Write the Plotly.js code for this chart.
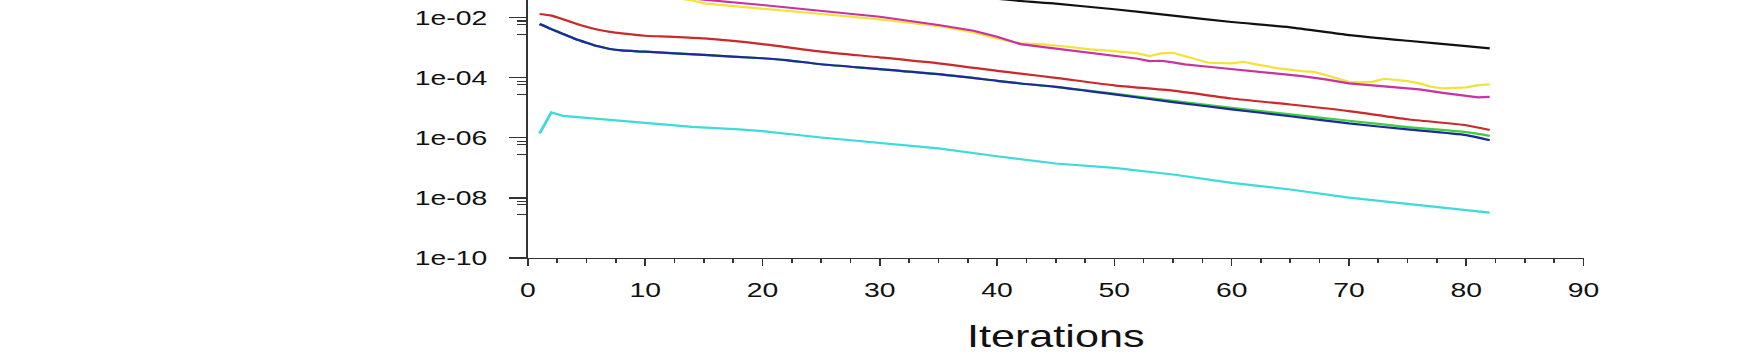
<!DOCTYPE html>
<html>
<head>
<meta charset="utf-8">
<script src="https://cdn.plot.ly/plotly-3.0.1.min.js"></script>
<style>
  html, body { margin: 0; padding: 0; background: #fff; overflow: hidden; width: 1754px; height: 360px; }
  #chart { width: 1299px; height: 360px; transform: scaleX(1.35); transform-origin: 0 0; }
</style>
</head>
<body>
<div id="chart"></div>
<script>
// ---- data ----
const iterBlack = [1,10,20,30,38,42,45,50,55,60,65,70,75,80,82];
const resBlack  = [1.0,0.5,0.224,0.1,5.13e-2,3.6e-2,2.93e-2,1.91e-2,1.17e-2,7.19e-3,4.79e-3,2.65e-3,1.71e-3,1.14e-3,9.55e-4];

const iterMagenta = [1,5,10,15,20,25,30,35,38,40,42,44,46,48,50,52,53,54,55,56,58,60,62,64,66,68,70,72,74,75,76,78,80,81,82];
const resMagenta  = [0.316,0.141,7.08e-2,3.98e-2,2.65e-2,1.71e-2,1.08e-2,5.71e-3,3.69e-3,2.33e-3,1.32e-3,1.05e-3,8.38e-4,6.81e-4,5.58e-4,4.30e-4,3.61e-4,3.69e-4,3.26e-4,2.80e-4,2.33e-4,1.95e-4,1.67e-4,1.40e-4,1.14e-4,8.85e-5,6.50e-5,5.58e-5,4.79e-5,4.65e-5,4.10e-5,3.16e-5,2.45e-5,2.22e-5,2.33e-5];

const iterYellow = [1,5,10,14,15,20,25,30,35,38,40,42,44,46,48,50,52,53,54,55,56,57,58,60,61,62,64,66,67,68,70,71,72,73,74,75,76,77,78,80,81,82];
const resYellow  = [0.251,0.126,6.31e-2,3.80e-2,3.02e-2,2.06e-2,1.33e-2,8.85e-3,5.28e-3,3.26e-3,2.06e-3,1.40e-3,1.30e-3,1.08e-3,8.85e-4,7.76e-4,6.50e-4,5.28e-4,6.50e-4,6.81e-4,5.28e-4,4.10e-4,3.16e-4,3.02e-4,3.41e-4,2.86e-4,2.06e-4,1.67e-4,1.58e-4,1.23e-4,7.36e-5,7.03e-5,7.36e-5,9.27e-5,8.38e-5,7.76e-5,6.50e-5,5.01e-5,4.44e-5,4.79e-5,5.71e-5,6.03e-5];

const iterRed = [1,2,3,4,5,6,7,8,10,12,15,20,25,30,35,40,42,45,50,55,60,65,70,75,80,82];
const resRed  = [1.33e-2,1.175e-2,8.9e-3,6.6e-3,5.0e-3,3.98e-3,3.39e-3,3.02e-3,2.51e-3,2.33e-3,2.04e-3,1.32e-3,7.41e-4,4.79e-4,3.02e-4,1.70e-4,1.38e-4,1.0e-4,5.62e-5,3.72e-5,2.04e-5,1.29e-5,7.76e-6,4.17e-6,2.63e-6,1.82e-6];

const iterGreen = [1,2,3,4,5,6,7,8,10,15,20,22,25,30,35,40,42,45,50,55,60,65,70,75,80,82];
const resGreen  = [6.17e-3,4.17e-3,2.88e-3,2.0e-3,1.48e-3,1.12e-3,9.12e-4,8.13e-4,7.41e-4,5.75e-4,4.47e-4,3.89e-4,2.82e-4,1.95e-4,1.32e-4,7.94e-5,6.46e-5,5.01e-5,2.95e-5,1.70e-5,1.0e-5,6.03e-6,3.72e-6,2.29e-6,1.55e-6,1.17e-6];

const iterBlue = [1,2,3,4,5,6,7,8,10,15,20,22,25,30,35,40,42,45,50,55,60,65,70,75,80,82];
const resBlue  = [6.17e-3,4.17e-3,2.88e-3,2.0e-3,1.48e-3,1.12e-3,9.12e-4,8.13e-4,7.41e-4,5.75e-4,4.47e-4,3.89e-4,2.82e-4,1.95e-4,1.32e-4,7.94e-5,6.46e-5,5.01e-5,2.82e-5,1.55e-5,8.91e-6,5.25e-6,3.02e-6,1.91e-6,1.23e-6,8.32e-7];

const iterCyan = [1,2,3,5,8,10,14,18,20,25,30,35,40,45,50,55,60,65,70,75,80,82];
const resCyan  = [1.40e-6,7.03e-6,5.41e-6,4.65e-6,3.69e-6,3.16e-6,2.33e-6,1.91e-6,1.67e-6,1.03e-6,6.81e-7,4.44e-7,2.45e-7,1.40e-7,1.0e-7,6.03e-8,3.16e-8,1.91e-8,1.03e-8,6.50e-9,4.10e-9,3.26e-9];

const yTickVals  = [1e-10,1e-8,1e-6,1e-4,1e-2];
const yTickText  = ['1e-10','1e-08','1e-06','1e-04','1e-02'];
const yMinorVals = [7.75e-3,6e-3,2.8e-3,7.75e-5,6e-5,2.8e-5,7.75e-7,6e-7,2.8e-7,7.75e-9,6e-9,2.8e-9];
const xTickVals  = [0,10,20,30,40,50,60,70,80,90];

const series = [
  {x: iterCyan,    y: resCyan,    color: '#3fdada', smooth: false},
  {x: iterBlack,   y: resBlack,   color: '#111111', smooth: true},
  {x: iterYellow,  y: resYellow,  color: '#f3e23c', smooth: false},
  {x: iterMagenta, y: resMagenta, color: '#c9339f', smooth: false},
  {x: iterRed,     y: resRed,     color: '#c92a2a', smooth: true},
  {x: iterGreen,   y: resGreen,   color: '#3ccf3c', smooth: true},
  {x: iterBlue,    y: resBlue,    color: '#1c2a9c', smooth: true}
];

const traces = series.map(s => ({
  x: s.x, y: s.y, type: 'scatter', mode: 'lines',
  line: s.smooth ? {color: s.color, width: 2.2, shape: 'spline', smoothing: 0.6}
                 : {color: s.color, width: 2.2},
  hoverinfo: 'skip', showlegend: false
}));

const FONT = '"Liberation Sans", Arial, sans-serif';

const layout = {
  width: 1299, height: 360,
  margin: {l: 391.3, r: 125.7, t: 0, b: 102.3, pad: 0},
  paper_bgcolor: '#ffffff', plot_bgcolor: '#ffffff',
  font: {family: FONT, color: '#111111'},
  showlegend: false,
  xaxis: {
    range: [0, 90], autorange: false,
    tickmode: 'array', tickvals: xTickVals,
    ticks: 'outside', ticklen: 7, tickwidth: 1.2, tickcolor: '#333333',
    minor: {dtick: 2.5, tick0: 0, ticks: 'outside', ticklen: 4, tickwidth: 1.2, tickcolor: '#333333', showgrid: false},
    showline: true, linecolor: '#333333', linewidth: 1.3,
    showgrid: false, zeroline: false,
    tickfont: {family: FONT, size: 21, color: '#111111'},
    ticklabelstandoff: 6,
    title: {text: 'Iterations', font: {family: FONT, size: 32, color: '#111111'}, standoff: 24},
    automargin: false
  },
  yaxis: {
    type: 'log', range: [-10, -1.41], autorange: false,
    tickmode: 'array', tickvals: yTickVals, ticktext: yTickText,
    ticks: 'outside', ticklen: 12.6, tickwidth: 1.2, tickcolor: '#333333',
    minor: {tickmode: 'array', tickvals: yMinorVals, ticks: 'outside', ticklen: 7, tickwidth: 1.2, tickcolor: '#333333', showgrid: false},
    showline: true, linecolor: '#333333', linewidth: 1.3,
    showgrid: false, zeroline: false,
    tickfont: {family: FONT, size: 21, color: '#111111'},
    ticklabelstandoff: 12,
    automargin: false
  }
};

Plotly.newPlot('chart', traces, layout, {displayModeBar: false, staticPlot: true});
</script>
</body>
</html>
